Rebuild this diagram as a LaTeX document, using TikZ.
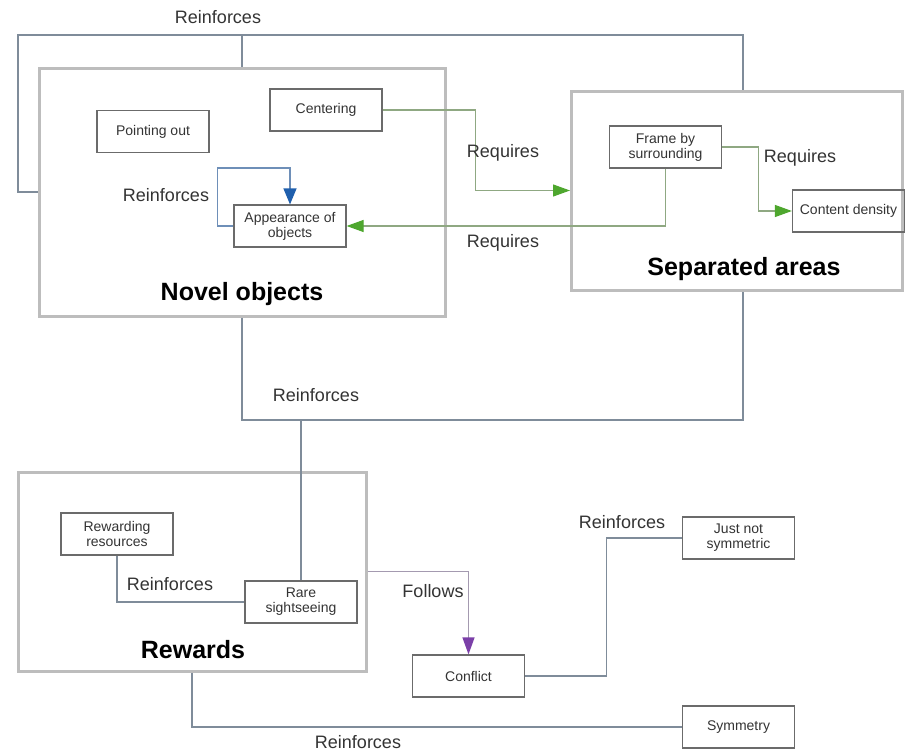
\documentclass[tikz,border=0pt]{standalone}
\usepackage{fontspec}
\setmainfont{Liberation Sans}
\usetikzlibrary{arrows.meta}

\definecolor{areagray}{HTML}{BDBDBD}
\definecolor{boxgray}{HTML}{6B6B6B}
\definecolor{txtgray}{HTML}{333333}
\definecolor{linkgray}{HTML}{7F8C9A}
\definecolor{loopblue}{HTML}{6E8FB8}
\definecolor{tipblue}{HTML}{1F5FAD}
\definecolor{reqgreen}{HTML}{8FA882}
\definecolor{tipgreen}{HTML}{4EA72E}
\definecolor{followpurple}{HTML}{A49AB0}
\definecolor{tippurple}{HTML}{7B3FA8}

\begin{document}
\begin{tikzpicture}[x=1pt, y=-1pt]
    \tikzset{
      area/.style={
        draw=areagray, line width=3pt, rectangle,
      },
      block/.style={
        draw=boxgray, line width=1.2pt, rectangle, minimum width=112pt, minimum height=42pt,
        align=center, text=txtgray, font=\fontsize{14}{15}\selectfont,
      },
      title/.style={font=\fontsize{25}{28}\selectfont\bfseries},
      rel/.style={text=txtgray, font=\fontsize{18}{20}\selectfont},
      link/.style={draw=linkgray, line width=1.2pt},
      loop/.style={draw=loopblue, line width=1.2pt, -{Triangle[length=16pt, width=13pt, color=tipblue]}},
      req/.style={draw=reqgreen, line width=1.2pt, -{Triangle[length=17pt, width=12pt, color=tipgreen]}},
      follow/.style={draw=followpurple, line width=1.2pt, -{Triangle[length=17pt, width=12pt, color=tippurple]}},
    }
    \useasboundingbox (0,0) rectangle (905,755);
    % areas
    \node (novel) [area, minimum width=406pt, minimum height=248pt] at (242,192) {};
    \node (sep) [area, minimum width=331pt, minimum height=199pt] at (737,190.5) {};
    \node (rewards) [area, minimum width=348pt, minimum height=199pt] at (192,571.5) {};
    \node (novel title) [title] at (242,294) {Novel objects};
    \node (sep title) [title] at (744,269) {Separated areas};
    \node (rewards title) [title] at (193,650) {Rewards};
    % blocks
    \foreach \name/\x/\y/\txt in {point/153/131.5/Pointing out, center/326/110/Centering,
      appear/290/226/{Appearance of\\objects}, frame/665.5/147/{Frame by\\surrounding},
      density/848.5/211/Content density, rewres/117/534/{Rewarding\\resources},
      rare/301/602/{Rare\\sightseeing}, conflict/468.5/676/Conflict,
      justnot/738.5/538/{Just not\\symmetric}, symm/738.5/727/Symmetry} {
      \node (\name) [block] at (\x,\y) {\txt};
    }
    % joints
    \coordinate (topbus) at (18,35);
    \coordinate (midbus) at (242,420);
    % arrows
    \draw[link] (novel.west) -| (topbus) -| ([xshift=6pt]sep.north);
    \draw[link] (novel.north) -- (novel.north |- topbus);
    \draw[link] (novel.south) |- ([xshift=6pt]sep.south |- midbus) -- ([xshift=6pt]sep.south);
    \draw[link] (rare.north) -- (rare.north |- midbus);
    \draw[loop] (appear.west) -- ++(-16,0) |- ++(0,-58) -| (appear.north);
    \draw[req] (center.east) -- ++(93,0) |- (sep.west);
    \draw[req] (frame.south) |- (appear.east);
    \draw[req] (frame.east) -- ++(36,0) |- (density.west);
    \draw[link] (rewres.south) |- (rare.west);
    \draw[follow] (rewards.east) -| (conflict.north);
    \draw[link] (conflict.east) -- ++(81,0) |- (justnot.west);
    \draw[link] (rewards.south) |- (symm.west);
    % labels
    \foreach \name/\x/\y/\txt in {top/218/17/Reinforces, self/166/195/Reinforces,
      center/503/153/Requires, appear/503/243/Requires, density/800/158/Requires,
      mid/316/395/Reinforces, rare/170/584/Reinforces, follow/433/591/Follows,
      just/622/522/Reinforces, symm/358/742/Reinforces} {
      \node (\name lbl) [rel] at (\x,\y) {\txt};
    }
\end{tikzpicture}
\end{document}
